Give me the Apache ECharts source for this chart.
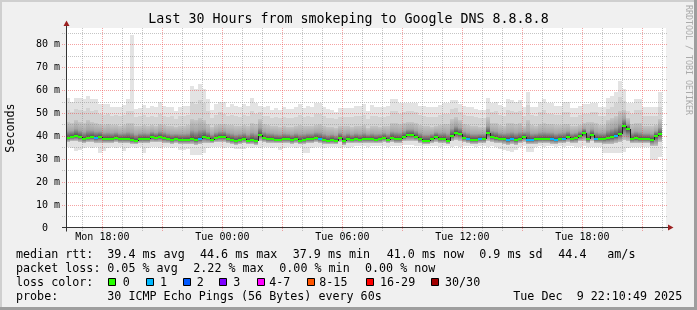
<!DOCTYPE html>
<html>
<head>
<meta charset="utf-8">
<style>
html,body{margin:0;padding:0;background:#f0f0f0;}
#chart{width:697px;height:310px;}
</style>
<script src="https://cdn.jsdelivr.net/npm/echarts@6.0.0/dist/echarts.min.js"></script>
</head>
<body>
<div id="chart"></div>
<script>
// ---------------- DATA ----------------
// 12-minute consolidated columns, first column starts Mon 16:12
const COLUMN_START_HOUR = 16.2;     // hours since Mon 00:00
const COLUMN_HOURS = 0.2;           // 12 minutes
const VIEW_START_HOUR = 16 + 10/60 + 49/3600;   // Mon 16:10:49
const VIEW_END_HOUR = VIEW_START_HOUR + 30;       // Tue 22:10:49

// median rtt per column (ms)
const rttMedian = [
 39.5,39.9,40.2,39.9,39.0,39.5,39.9,39.3,39.9,39.0,
 39.0,38.8,39.3,39.0,39.0,39.0,38.6,38.2,39.0,39.0,
 39.0,39.9,39.5,39.9,39.1,39.0,38.6,38.9,38.5,38.5,
 38.5,38.9,38.5,39.0,39.8,39.3,38.5,39.3,39.8,39.8,
 39.0,38.5,37.9,38.5,39.0,38.2,38.5,37.9,40.8,39.5,
 39.0,39.0,38.6,38.6,39.0,39.0,38.5,39.0,38.0,38.5,
 39.0,39.0,39.3,39.0,38.5,38.2,38.5,38.2,39.3,37.9,
 39.0,38.6,39.0,38.6,39.0,39.0,39.0,38.6,39.0,39.5,
 38.6,39.5,39.0,38.8,39.8,40.5,40.5,39.8,38.8,38.2,
 38.2,39.0,39.8,39.0,39.0,38.2,40.2,41.4,41.0,39.3,
 39.0,38.6,38.6,39.0,39.0,41.7,39.8,39.3,39.0,39.0,
 38.3,38.8,38.3,39.0,39.8,38.5,38.5,38.8,39.0,39.0,
 39.0,39.0,38.5,39.0,39.0,39.8,39.0,39.3,40.2,41.3,
 39.0,40.8,39.0,39.0,39.0,39.3,39.8,40.2,41.0,44.6,
 43.4,39.0,39.3,39.0,39.0,39.0,38.5,40.2,41.0
];
// highest ping per column (top of the lightest smoke)
const rttMax = [
 56.7,55.2,56.8,56.8,56.4,57.7,56.3,56.4,54.2,54.2,
 54.2,53.0,53.0,53.0,53.9,56.3,84.1,51.9,52.3,53.8,
 52.3,53.3,52.8,55.2,53.3,52.8,53.0,50.9,53.0,53.3,
 53.3,62.1,60.6,63.0,60.6,56.3,51.6,54.2,55.1,55.1,
 53.0,54.2,53.3,53.0,54.2,53.3,56.6,54.5,53.3,53.0,
 53.3,51.6,52.2,51.6,52.8,51.9,51.9,52.8,54.2,52.2,
 53.3,52.8,54.8,54.8,53.0,51.9,51.6,50.7,52.2,52.3,
 52.3,52.3,53.3,53.3,54.2,50.9,53.8,53.0,52.8,52.8,
 53.3,56.3,56.3,54.5,54.8,54.8,54.8,54.8,53.3,53.3,
 52.8,52.8,52.8,53.8,54.5,54.5,56.0,56.0,54.2,53.3,
 52.8,52.8,52.0,51.6,51.6,56.6,54.5,55.2,53.5,52.8,
 56.4,56.0,55.2,56.0,52.8,59.5,53.0,52.8,55.0,56.3,
 54.5,54.5,53.3,53.3,55.2,55.2,52.3,52.3,53.3,54.2,
 54.2,54.8,54.8,52.8,52.8,56.7,57.7,59.5,64.0,60.6,
 54.5,54.5,56.3,56.3,53.0,53.0,53.0,53.0,59.5
];
// upper quantile (top of the mid-grey smoke)
const rttHigh = [
 51.5,50.5,52.0,51.5,51.0,52.5,51.0,51.5,50.0,49.5,50.0,49.0,49.5,49.0,49.5,51.0,
 51.0,
 48.5,49.0,49.5,48.5,49.0,48.5,50.0,49.0,48.5,49.0,47.5,49.0,49.0,49.5,
 55.0,54.0,56.0,54.5,51.0,
 48.0,49.5,50.5,50.0,49.0,49.5,49.0,48.5,49.5,49.0,51.0,50.0,50.5,49.0,49.0,48.0,48.5,48.0,48.5,48.0,48.0,48.5,
 49.5,48.5,49.0,48.5,50.0,50.0,49.0,48.0,48.0,47.5,48.5,48.5,48.5,48.5,49.0,49.0,49.5,47.5,49.0,49.0,48.5,48.5,49.0,
 51.0,51.0,50.0,50.5,51.0,51.0,50.5,49.5,49.0,48.5,48.5,48.5,49.5,50.0,50.0,
 52.0,52.5,50.5,49.5,49.0,49.0,48.5,48.0,48.0,
 52.0,50.5,51.0,49.5,49.0,51.5,51.0,50.5,51.0,49.0,53.5,49.5,49.0,50.5,51.5,50.0,50.0,49.5,49.5,50.5,50.5,48.5,48.5,49.5,50.0,50.0,
 50.5,50.5,49.0,49.0,52.0,53.0,54.5,57.0,55.5,51.0,50.0,51.5,51.5,49.0,49.0,49.0,49.0,53.0
];
// inner upper quantile (top of the dark smoke)
const rttUp = [
 46.5,46.0,47.0,46.5,46.0,47.0,46.5,46.0,45.5,45.0,45.5,45.0,45.0,44.5,45.0,46.0,
 46.0,
 44.5,44.5,45.0,44.5,45.0,44.5,45.5,45.0,44.5,44.5,44.0,44.5,44.5,45.0,
 47.5,47.0,48.0,47.0,45.5,
 44.0,45.0,45.5,45.5,45.0,45.0,44.5,44.5,45.0,44.5,46.0,45.5,47.5,45.5,45.0,44.5,44.5,44.0,44.5,44.0,44.0,44.5,
 45.0,44.5,44.5,44.5,45.0,45.5,44.5,44.0,44.0,43.5,44.5,44.5,44.5,44.0,44.5,44.5,45.0,43.5,44.5,44.5,44.0,44.5,44.5,
 46.0,46.0,45.5,46.0,46.5,46.5,46.0,45.0,44.5,44.5,44.0,44.5,45.0,45.5,45.5,
 47.5,48.5,47.0,45.5,45.0,44.5,44.5,44.0,44.0,
 48.5,46.0,46.0,45.0,44.5,46.0,46.0,45.5,46.0,44.5,47.0,45.0,44.5,45.5,46.0,45.5,45.5,45.0,45.0,45.5,45.5,44.5,44.5,45.0,46.0,46.5,
 46.5,46.0,45.0,45.0,47.0,48.0,49.0,51.0,51.5,48.0,45.5,46.0,46.0,44.5,44.5,44.5,45.0,47.5
];
// lower quantile (bottom of the dark smoke)
const rttLow = [
 37.6,37.8,37.8,37.6,37.2,37.5,37.6,37.3,37.0,37.0,37.2,37.0,37.4,37.2,37.0,37.3,
 36.8,36.6,37.2,37.0,37.2,37.6,37.4,37.6,37.2,37.1,36.8,37.0,36.8,36.8,36.7,
 36.5,36.4,36.5,37.0,37.2,
 37.0,37.4,37.6,37.6,37.2,36.8,36.4,36.8,37.2,36.6,36.8,36.4,37.8,37.4,37.2,37.2,37.0,37.0,37.2,37.2,36.8,37.2,
 36.5,36.6,37.0,37.2,37.4,37.2,36.8,36.6,36.8,36.6,37.4,36.4,37.2,37.0,37.2,37.0,37.2,37.2,37.2,37.0,37.2,37.5,37.0,
 37.5,37.2,37.0,37.8,38.2,38.2,37.8,37.0,36.8,36.8,37.2,37.6,37.2,37.2,36.8,
 37.8,38.4,38.2,37.4,37.0,36.8,36.8,37.0,37.0,
 38.2,37.6,37.2,37.0,36.8,36.4,36.6,36.4,37.0,37.6,36.6,36.6,36.8,37.0,37.0,37.0,36.8,36.6,37.0,37.0,37.6,37.0,37.2,37.8,38.2,37.0,
 37.8,37.0,37.0,36.8,36.6,36.8,37.0,37.4,38.6,38.2,37.0,37.2,37.0,37.0,37.0,36.0,35.8,37.4
];
// lowest ping per column (bottom of the lightest smoke)
const rttMin = [
 35.2,35.0,33.7,34.0,35.0,35.2,35.0,35.2,32.9,33.5,
 35.0,35.3,35.0,35.2,33.8,35.0,35.3,35.0,35.2,32.9,
 35.0,35.3,35.2,35.0,35.4,35.2,35.0,35.3,34.1,34.1,
 34.3,31.9,31.9,31.9,32.8,35.0,35.2,35.4,35.2,35.0,
 35.3,35.0,34.4,34.4,34.6,35.2,35.0,35.3,35.0,35.4,
 35.2,35.0,35.3,34.1,35.0,35.2,35.4,35.0,35.2,32.9,
 32.9,35.0,35.3,35.2,35.0,35.4,35.2,35.3,35.0,35.2,
 34.8,35.5,35.8,35.6,35.8,35.5,35.8,36.0,35.7,35.8,
 35.5,35.8,36.0,35.7,36.3,36.3,36.1,35.8,35.7,35.8,
 36.0,35.6,35.8,35.5,35.8,35.6,35.4,35.8,35.5,35.8,
 35.6,35.8,35.5,35.7,35.8,35.4,35.6,35.3,34.5,34.1,
 33.6,33.4,34.1,35.4,35.6,33.4,33.4,35.5,35.7,35.5,
 35.8,35.6,35.5,35.7,35.4,35.6,35.8,35.5,35.4,35.6,
 35.3,35.5,35.4,35.2,32.6,32.6,32.6,32.6,32.6,33.0,
 35.0,35.3,35.5,35.2,35.4,35.5,29.7,29.7,31.0
];
// lost pings per column (out of 30)
const lossCount = [
 0,0,0,0,0,0,0,1,0,0, 0,0,0,0,0,0,0,0,0,0, 0,0,0,0,0,0,0,0,0,0,
 0,0,0,1,0,0,0,0,0,0, 0,0,0,0,0,0,0,0,0,0, 0,0,0,0,0,0,0,0,0,0,
 0,0,0,1,0,0,0,0,0,0, 0,0,0,0,0,0,0,0,0,0, 0,0,0,0,0,0,0,0,0,0,
 0,0,0,0,0,0,0,0,0,0, 1,0,0,1,0,0,0,0,0,0, 1,1,0,0,0,1,1,0,0,0,
 0,1,1,0,1,0,0,0,0,0, 0,0,1,0,0,0,0,1,0,0, 0,0,0,0,0,0,0,0,0
];
// loss legend
const lossLabels = ['0','1','2','3','4-7','8-15','16-29','30/30'];
const lossFrom   = [0,1,2,3,4,8,16,30];
const lossColors = ['#26ff00','#00b8ff','#0059ff','#7e00ff','#ff00ff','#ff5500','#ff0000','#a10000'];
// x axis labels
const labelHours = [18,24,30,36,42];
const timeLabels = ['Mon 18:00','Tue 00:00','Tue 06:00','Tue 12:00','Tue 18:00'];
// statistics text
const titleText = 'Last 30 Hours from smokeping to Google DNS 8.8.8.8';
const statRows = [
  {y: 254.5, items: [['median rtt:',16],['39.4 ms avg',107.3],['44.6 ms max',200],['37.9 ms min',292.7],['41.0 ms now',386.7],['0.9 ms sd',479.3],['44.4',558.3],['am/s',607.3]]},
  {y: 268.5, items: [['packet loss:',16],['0.05 % avg',107.3],['2.22 % max',193.3],['0.00 % min',279.3],['0.00 % now',365]]},
  {y: 282.5, items: [['loss color:',16]]},
  {y: 296.5, items: [['probe:',16],['30 ICMP Echo Pings (56 Bytes) every 60s',107.3],['Tue Dec  9 22:10:49 2025',513.3]]}
];
const lossBoxX   = [108,146,183,219,257,307,366,431];
const lossLabelX = [122.7,160,196.7,233.3,269.3,319.3,380,445];

// ---------------- STYLE ----------------
const FONT = 'DejaVu Sans Mono';
const PLOT = {left: 66, top: 28, width: 600, height: 200};
const Y_MAX = 87.34;
const MINOR_GRID = 'rgba(140,140,140,0.5)';
const MAJOR_GRID = 'rgba(235,70,70,0.5)';

function lossIndex(n) { let i = 0; for (let j = 0; j < lossFrom.length; j++) if (n >= lossFrom[j]) i = j; return i; }
function colStart(k) { return COLUMN_START_HOUR + COLUMN_HOURS * k; }

const smokeData = rttMedian.map((m, k) => [colStart(k), rttMin[k], rttLow[k], m, rttUp[k], rttHigh[k], rttMax[k]]);
const medianData = rttMedian.map((m, k) => [colStart(k), m, lossCount[k]]);
const vGridData = []; for (let h = 17; h <= 46; h++) vGridData.push([h, 0]);
const hGridData = []; for (let v = 5; v < Y_MAX; v += 5) hGridData.push([VIEW_START_HOUR, v]);

function renderSmoke(params, api) {
  const t0 = api.value(0);
  const x0 = Math.round(api.coord([t0, 0])[0]);
  const x1 = Math.round(api.coord([t0 + COLUMN_HOURS, 0])[0]);
  const w = x1 - x0;
  const py = v => Math.round(api.coord([t0, v])[1]);
  const yMin = py(api.value(1)), yLow = py(api.value(2)), yMed = py(api.value(3)),
        yUp = py(api.value(4)), yHigh = py(api.value(5)), yMax = py(api.value(6));
  const span = Math.max(1, yLow - yUp);
  const m = Math.min(0.97, Math.max(0.03, (yMed - yUp) / span));
  return {type: 'group', children: [
    {type: 'rect', shape: {x: x0, y: yMax, width: w, height: yMin - yMax}, style: {fill: '#e3e3e3'}},
    {type: 'rect', shape: {x: x0, y: yHigh, width: w, height: yLow - yHigh}, style: {fill: '#d3d3d3'}},
    {type: 'rect', shape: {x: x0, y: yUp, width: w, height: span}, style: {fill: new echarts.graphic.LinearGradient(0, 0, 0, 1, [
      {offset: 0, color: '#c6c6c6'},
      {offset: m * 0.55, color: '#a4a4a4'},
      {offset: m, color: '#4a4a4a'},
      {offset: m + (1 - m) * 0.45, color: '#8e8e8e'},
      {offset: 1, color: '#c2c2c2'}])}}
  ]};
}
function renderMedian(params, api) {
  const k = params.dataIndex;
  const t0 = api.value(0);
  const x0 = Math.round(api.coord([t0, 0])[0]);
  const x1 = Math.round(api.coord([t0 + COLUMN_HOURS, 0])[0]);
  const yc = Math.round(api.coord([t0, api.value(1)])[1]);
  const children = [];
  if (k > 0) {
    const yp = Math.round(api.coord([t0, rttMedian[k - 1]])[1]);
    if (yp !== yc) children.push({type: 'line', shape: {x1: x0 + 0.5, y1: yp, x2: x0 + 0.5, y2: yc}, style: {stroke: '#202020', lineWidth: 1}});
  }
  children.push({type: 'rect', shape: {x: x0, y: yc - 1, width: x1 - x0, height: 2}, style: {fill: lossColors[lossIndex(api.value(2))]}});
  return {type: 'group', children};
}
function renderVGrid(params, api) {
  const h = api.value(0);
  const c = params.coordSys;
  const x = Math.floor(api.coord([h, 0])[0]) + 0.5;
  return {type: 'line', shape: {x1: x, y1: c.y, x2: x, y2: c.y + c.height + 3},
    style: {stroke: h % 3 === 0 ? MAJOR_GRID : MINOR_GRID, lineWidth: 1, lineDash: [1, 1]}};
}
function renderHGrid(params, api) {
  const v = api.value(1);
  const c = params.coordSys;
  const y = Math.ceil(api.coord([VIEW_START_HOUR, v])[1]) - 0.5;
  return {type: 'line', shape: {x1: c.x - 4, y1: y, x2: c.x + c.width + 1, y2: y},
    style: {stroke: v % 10 === 0 ? MAJOR_GRID : MINOR_GRID, lineWidth: 1, lineDash: [1, 1]}};
}

// ---------------- GRAPHIC (frame, axes, texts) ----------------
const graphics = [];
graphics.push({type: 'rect', z: 100, shape: {x: 0, y: 0, width: 697, height: 2}, style: {fill: '#cfcfcf'}});
graphics.push({type: 'rect', z: 100, shape: {x: 0, y: 0, width: 2, height: 310}, style: {fill: '#cfcfcf'}});
graphics.push({type: 'rect', z: 100, shape: {x: 0, y: 307, width: 697, height: 3}, style: {fill: '#9e9e9e'}});
graphics.push({type: 'rect', z: 100, shape: {x: 694, y: 0, width: 3, height: 310}, style: {fill: '#9e9e9e'}});
const axX = PLOT.left + 0.5, axY = PLOT.top + PLOT.height - 0.5;
graphics.push({type: 'line', z: 100, shape: {x1: axX, y1: axY + 4, x2: axX, y2: PLOT.top - 2}, style: {stroke: '#333', lineWidth: 1}});
graphics.push({type: 'line', z: 100, shape: {x1: PLOT.left - 4, y1: axY, x2: PLOT.left + PLOT.width + 2, y2: axY}, style: {stroke: '#333', lineWidth: 1}});
graphics.push({type: 'polygon', z: 100, shape: {points: [[axX - 3, PLOT.top - 2], [axX + 3, PLOT.top - 2], [axX, PLOT.top - 7.5]]}, style: {fill: '#9b2020'}});
const ax2 = PLOT.left + PLOT.width + 2;
graphics.push({type: 'polygon', z: 100, shape: {points: [[ax2, axY - 3], [ax2, axY + 3], [ax2 + 5.5, axY]]}, style: {fill: '#9b2020'}});
graphics.push({type: 'text', z: 100, x: 348.5, y: 20, style: {text: titleText, fontFamily: FONT, fontSize: 13.3, fill: '#000', align: 'center', verticalAlign: 'middle'}});
graphics.push({type: 'text', z: 100, x: 11, y: PLOT.top + PLOT.height / 2, rotation: Math.PI / 2, style: {text: 'Seconds', fontFamily: FONT, fontSize: 11.7, fill: '#000', align: 'center', verticalAlign: 'middle'}});
graphics.push({type: 'text', z: 100, x: 688, y: 60, rotation: -Math.PI / 2, style: {text: 'RRDTOOL / TOBI OETIKER', fontFamily: FONT, fontSize: 8.3, fill: '#aaaaaa', align: 'center', verticalAlign: 'middle'}});
statRows.forEach(row => row.items.forEach(([t, x]) => {
  graphics.push({type: 'text', z: 100, x: x, y: row.y, style: {text: t, fontFamily: FONT, fontSize: 11.7, fill: '#000', align: 'left', verticalAlign: 'middle'}});
}));
lossLabels.forEach((lab, i) => {
  graphics.push({type: 'rect', z: 100, shape: {x: lossBoxX[i] + 0.5, y: 278.5, width: 7, height: 7}, style: {fill: lossColors[i], stroke: '#000', lineWidth: 1}});
  graphics.push({type: 'text', z: 100, x: lossLabelX[i], y: 282.5, style: {text: lab, fontFamily: FONT, fontSize: 11.7, fill: '#000', align: 'left', verticalAlign: 'middle'}});
});

const chart = echarts.init(document.getElementById('chart'), null, {renderer: 'canvas', width: 697, height: 310});
chart.setOption({
  animation: false,
  backgroundColor: '#f0f0f0',
  grid: {left: PLOT.left, top: PLOT.top, width: PLOT.width, height: PLOT.height, show: true, backgroundColor: '#ffffff', borderWidth: 0},
  xAxis: {
    type: 'value', min: VIEW_START_HOUR, max: VIEW_END_HOUR,
    axisLine: {show: false}, axisTick: {show: false}, splitLine: {show: false},
    axisLabel: {
      customValues: labelHours,
      formatter: v => { const i = labelHours.indexOf(Math.round(v * 1000) / 1000); return i >= 0 ? timeLabels[i] : ''; },
      fontFamily: FONT, fontSize: 10, color: '#000', margin: 4
    }
  },
  yAxis: {
    type: 'value', min: 0, max: Y_MAX, interval: 10,
    axisLine: {show: false}, axisTick: {show: false}, splitLine: {show: false},
    axisLabel: {
      formatter: v => { if (Math.abs(v - Math.round(v / 10) * 10) > 1e-6) return ''; return v === 0 ? '0  ' : Math.round(v) + ' m'; },
      fontFamily: FONT, fontSize: 10, color: '#000', margin: 6
    }
  },
  series: [
    {type: 'custom', name: 'smoke', renderItem: renderSmoke, data: smokeData, encode: {x: 0, y: 3}, z: 1, silent: true, clip: true},
    {type: 'custom', name: 'vgrid', renderItem: renderVGrid, data: vGridData, encode: {x: 0, y: 1}, z: 2, silent: true, clip: false},
    {type: 'custom', name: 'hgrid', renderItem: renderHGrid, data: hGridData, encode: {x: 0, y: 1}, z: 2, silent: true, clip: false},
    {type: 'custom', name: 'median', renderItem: renderMedian, data: medianData, encode: {x: 0, y: 1}, z: 3, silent: true, clip: true}
  ],
  graphic: graphics
});
</script>
</body>
</html>
